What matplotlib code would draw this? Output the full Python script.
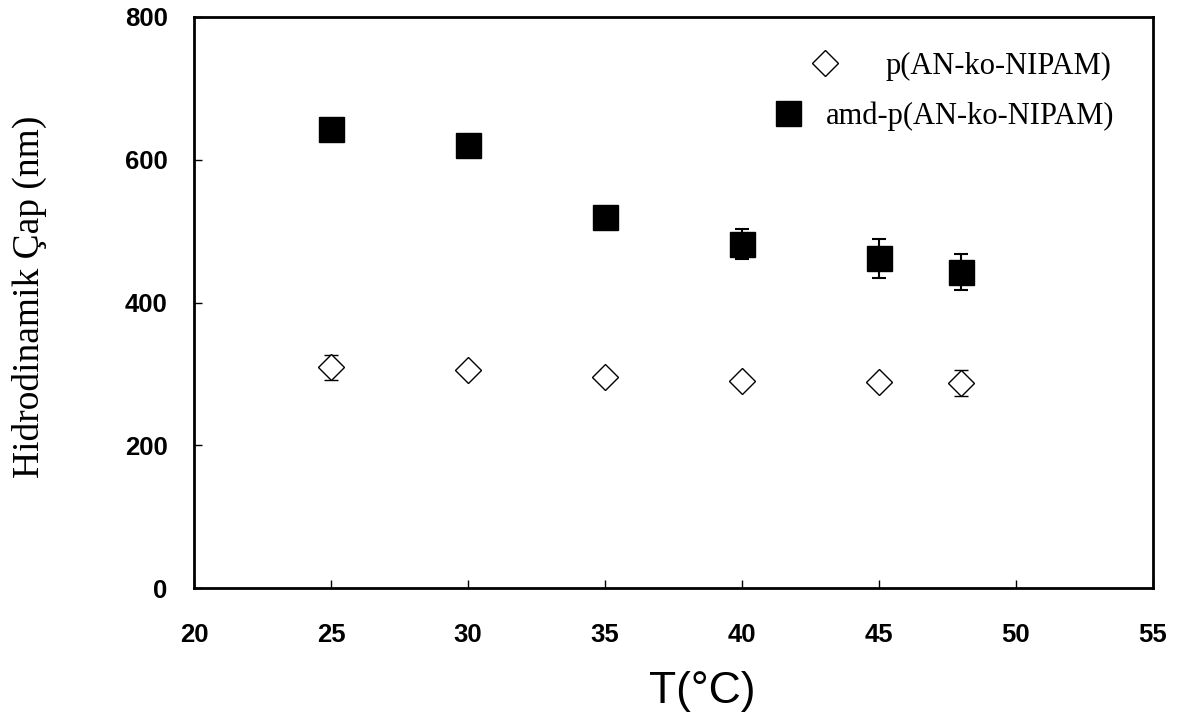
import matplotlib.pyplot as plt
import numpy as np

# sıcaklık (°C)
sicaklik = [25, 30, 35, 40, 45, 48]

# p(AN-ko-NIPAM)
cap_p = [309, 305, 295, 290, 288, 287]
hata_p = [17, 5, 5, 5, 5, 18]

# amd-p(AN-ko-NIPAM)
cap_amd = [643, 620, 520, 482, 462, 443]
hata_amd = [5, 5, 5, 21, 27, 25]

xticks = [20, 25, 30, 35, 40, 45, 50, 55]
yticks = [0, 200, 400, 600, 800]

fig = plt.figure(figsize=(11.86, 7.2), dpi=100)
ax = fig.add_axes([194 / 1186, 1 - 588 / 720, (1153 - 194) / 1186, (588 - 17) / 720])

l1 = ax.errorbar(sicaklik, cap_p, yerr=hata_p, fmt='D', ms=13, mfc='white', mec='black',
                 mew=1.0, ecolor='black', elinewidth=1.5, capsize=5, capthick=1.5,
                 label='p(AN-ko-NIPAM)')
l2 = ax.errorbar(sicaklik, cap_amd, yerr=hata_amd, fmt='s', ms=18, mfc='black', mec='black',
                 ecolor='black', elinewidth=1.5, capsize=5, capthick=1.5,
                 label='amd-p(AN-ko-NIPAM)')

ax.set_xlim(20, 55)
ax.set_ylim(0, 800)
ax.set_xticks(xticks)
ax.set_yticks(yticks)

for s in ax.spines.values():
    s.set_linewidth(2.0)

ax.tick_params(axis='both', direction='in', length=6, width=1.0, top=False, right=False)
ax.tick_params(axis='x', pad=25)
ax.tick_params(axis='y', pad=19)
for lab in ax.get_xticklabels() + ax.get_yticklabels():
    lab.set_fontfamily('Liberation Sans')
    lab.set_fontweight('bold')
    lab.set_fontsize(18.5)

ax.set_xlabel('T(°C)', fontfamily='Liberation Sans', fontsize=32)
ax.xaxis.set_label_coords(0.53, -0.145)
ax.set_ylabel('Hidrodinamik Çap (nm)', fontfamily='Liberation Serif', fontsize=27)
ax.yaxis.set_label_coords(-0.153, 0.51)

# iki ayrı legend, referanstaki gibi sağa yaslı
leg_font = {'family': 'Liberation Serif', 'size': 22}
leg1 = ax.legend([l1[0]], ['p(AN-ko-NIPAM)'], loc='center right', bbox_to_anchor=(0.957, 0.914),
                 frameon=False, prop=leg_font, handlelength=1.0, handletextpad=1.5,
                 borderpad=0, borderaxespad=0)
ax.add_artist(leg1)
ax.legend([l2[0]], ['amd-p(AN-ko-NIPAM)'], loc='center right', bbox_to_anchor=(0.960, 0.827),
          frameon=False, prop=leg_font, handlelength=1.0, handletextpad=0.74,
          borderpad=0, borderaxespad=0)

fig.savefig('out.png', dpi=100)
